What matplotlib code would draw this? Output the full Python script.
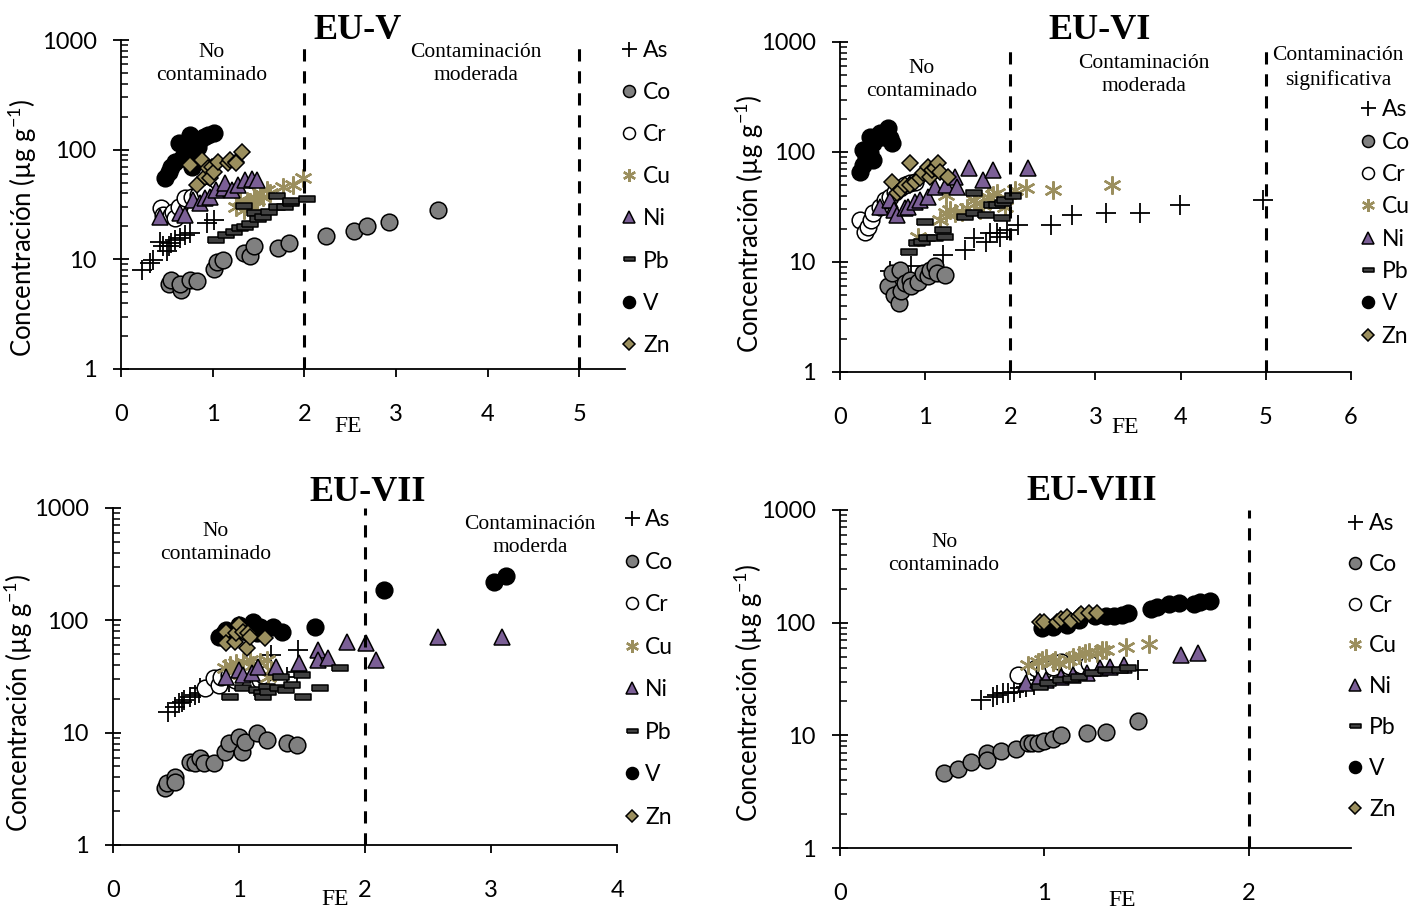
import matplotlib.pyplot as plt
from matplotlib.ticker import LogLocator, FixedLocator, NullFormatter, FixedFormatter

plt.rcParams['font.family'] = ['Lato', 'DejaVu Sans']
plt.rcParams['mathtext.fontset'] = 'custom'
plt.rcParams['mathtext.rm'] = 'Lato'

# ========== datos (FE, concentración en µg/g) ==========
elements = ["As", "Co", "Cr", "Cu", "Ni", "Pb", "V", "Zn"]

# --- EU-V ---
euv_as_fe = [0.23, 0.32, 0.35, 0.43, 0.46, 0.50, 0.52, 0.55, 0.59, 0.64, 0.70, 0.75, 0.94, 1.01]
euv_as_c = [8.0, 9.2, 9.9, 14.5, 13.1, 11.8, 13.1, 14.0, 15.0, 15.6, 16.7, 17.3, 21.3, 22.8]
euv_co_fe = [0.52, 0.54, 0.65, 0.64, 0.75, 0.83, 1.02, 1.05, 1.11, 1.34, 1.41, 1.45, 1.71, 1.83, 2.24, 2.54, 2.68, 2.92, 3.46]
euv_co_c = [6.0, 6.5, 5.2, 5.9, 6.5, 6.3, 8.1, 9.4, 9.9, 11.4, 10.8, 13.2, 12.6, 14.2, 16.3, 18.3, 20.1, 22.1, 28.2]
euv_cr_fe = [0.44, 0.46, 0.55, 0.57, 0.59, 0.63, 0.70, 0.77, 0.84, 0.92]
euv_cr_c = [29.2, 25.4, 25.4, 27.2, 23.7, 30.2, 36.1, 37.3, 38.7, 41.4]
euv_cu_fe = [1.25, 1.30, 1.34, 1.37, 1.41, 1.45, 1.45, 1.48, 1.52, 1.55, 1.59, 1.63, 1.77, 1.88, 1.99]
euv_cu_c = [29.9, 34.8, 28.2, 32.4, 33.6, 37.3, 30.3, 34.8, 40.0, 37.3, 43.0, 40.0, 46.1, 47.7, 54.8]
euv_ni_fe = [0.42, 0.64, 0.70, 0.79, 0.86, 0.92, 0.97, 1.04, 1.12, 1.14, 1.21, 1.28, 1.35, 1.43, 1.48]
euv_ni_c = [24.2, 26.3, 25.4, 34.8, 32.4, 36.1, 37.3, 43.0, 44.5, 50.0, 43.0, 47.7, 52.9, 53.7, 52.9]
euv_pb_fe = [1.04, 1.15, 1.23, 1.30, 1.34, 1.35, 1.41, 1.46, 1.50, 1.55, 1.61, 1.70, 1.70, 1.79, 1.85, 1.86, 2.03]
euv_pb_c = [15.0, 16.7, 17.9, 19.2, 30.7, 19.9, 21.0, 26.7, 23.2, 24.2, 27.2, 29.8, 37.8, 30.3, 32.4, 34.0, 35.3]
euv_v_fe = [0.48, 0.52, 0.55, 0.59, 0.63, 0.66, 0.72, 0.75, 0.77, 0.79, 0.81, 0.84, 0.86, 0.90, 0.95, 1.01]
euv_v_c = [54.8, 63, 70, 77.8, 114, 83.4, 89.5, 136, 70, 99.4, 83.4, 106, 122, 131, 136, 141]
euv_zn_fe = [0.75, 0.83, 0.88, 0.92, 0.95, 0.97, 0.99, 1.01, 1.06, 1.17, 1.19, 1.25, 1.26, 1.32]
euv_zn_c = [72.6, 47.7, 80.6, 56.8, 67.6, 54.8, 70, 63, 77.8, 75.1, 80.6, 77.8, 75.1, 96]

# --- EU-VI ---
euvi_as_fe = [0.59, 0.84, 1.21, 1.47, 1.57, 1.72, 1.76, 1.84, 1.88, 1.96, 2.09, 2.48, 2.72, 3.13, 3.52, 3.99, 4.97]
euvi_as_c = [8.2, 9.1, 11.6, 12.9, 16.4, 15.3, 18.3, 18.3, 17.0, 19.5, 21.7, 21.7, 26.7, 27.7, 27.7, 33.0, 36.6]
euvi_co_fe = [0.57, 0.61, 0.63, 0.69, 0.70, 0.72, 0.76, 0.82, 0.84, 0.92, 0.98, 1.04, 1.06, 1.12, 1.14, 1.23]
euvi_co_c = [6.0, 7.9, 5.0, 4.2, 8.5, 5.4, 6.4, 6.9, 6.0, 6.6, 7.9, 7.4, 8.5, 9.1, 7.9, 7.6]
euvi_cr_fe = [0.24, 0.29, 0.33, 0.37, 0.39, 0.47, 0.53, 0.59, 0.65, 0.70, 0.76, 0.82, 0.88]
euvi_cr_c = [24.1, 18.9, 20.9, 24.1, 27.7, 31.8, 36.6, 39.3, 43.6, 46.8, 50.2, 51.9, 53.7]
euvi_cu_fe = [0.92, 1.17, 1.25, 1.25, 1.29, 1.35, 1.43, 1.49, 1.57, 1.60, 1.64, 1.68, 1.74, 1.80, 1.84, 1.94, 2.05, 2.19, 2.50, 3.19]
euvi_cu_c = [17.0, 24.1, 27.7, 40.6, 29.7, 27.7, 28.6, 30.8, 36.6, 34.2, 29.7, 33.0, 39.3, 40.6, 42.1, 31.8, 45.2, 46.8, 45.2, 50.2]
euvi_ni_fe = [0.47, 0.59, 0.63, 0.67, 0.76, 0.80, 0.88, 0.94, 1.04, 1.12, 1.25, 1.35, 1.37, 1.51, 1.68, 1.80, 2.21]
euvi_ni_c = [31.8, 36.6, 29.7, 26.7, 30.8, 31.8, 35.3, 36.6, 39.3, 48.4, 50.2, 59.7, 48.4, 71.1, 55.6, 68.5, 71.1]
euvi_pb_fe = [0.81, 0.90, 0.96, 1.00, 1.02, 1.12, 1.21, 1.23, 1.47, 1.57, 1.57, 1.72, 1.78, 1.84, 1.90, 1.92, 1.94, 2.03]
euvi_pb_c = [12.4, 14.8, 15.3, 23.3, 16.4, 16.4, 19.5, 17.0, 25.8, 27.7, 42.1, 26.7, 33.0, 33.0, 24.9, 34.2, 36.6, 39.8]
euvi_v_fe = [0.24, 0.27, 0.27, 0.31, 0.35, 0.35, 0.39, 0.39, 0.43, 0.47, 0.51, 0.57, 0.59, 0.61]
euvi_v_c = [66.2, 76.2, 104, 90.7, 138, 97.3, 120, 84.6, 133, 148, 138, 164, 133, 120]
euvi_zn_fe = [0.61, 0.67, 0.72, 0.76, 0.82, 0.82, 0.88, 0.94, 0.98, 1.04, 1.06, 1.08, 1.12, 1.15, 1.17, 1.27]
euvi_zn_c = [53.7, 42.1, 45.2, 50.2, 50.2, 78.9, 53.7, 57.7, 64, 73.6, 59.7, 68.5, 71.1, 78.9, 66.2, 59.7]

# --- EU-VII ---
euvii_as_fe = [0.44, 0.49, 0.52, 0.55, 0.56, 0.61, 0.65, 0.68, 0.69, 0.90, 0.92, 1.25, 1.38, 1.46, 1.47]
euvii_as_c = [15.3, 17.0, 18.2, 18.9, 19.5, 20.9, 21.6, 22.4, 24.8, 31.5, 28.4, 49.1, 31.5, 34.8, 54.5]
euvii_co_fe = [0.41, 0.43, 0.49, 0.49, 0.61, 0.65, 0.69, 0.72, 0.80, 0.89, 0.92, 1.00, 1.02, 1.05, 1.14, 1.22, 1.38, 1.46]
euvii_co_c = [3.19, 3.53, 4.05, 3.65, 5.51, 5.33, 5.90, 5.33, 5.33, 6.77, 8.03, 9.21, 6.77, 8.30, 9.86, 8.59, 8.03, 7.76]
euvii_cr_fe = [0.73, 0.80, 0.84, 0.86, 0.92, 0.97, 1.17, 1.19]
euvii_cr_c = [24.8, 30.4, 26.5, 31.5, 32.6, 29.4, 29.4, 32.6]
euvii_cu_fe = [0.89, 0.93, 0.96, 0.98, 1.03, 1.09, 1.11, 1.17, 1.22, 1.23, 1.25]
euvii_cu_c = [37.3, 40.0, 36.1, 41.4, 42.8, 44.3, 40.0, 42.8, 44.3, 31.5, 36.1]
euvii_ni_fe = [0.90, 1.00, 1.03, 1.10, 1.15, 1.29, 1.48, 1.63, 1.63, 1.71, 1.86, 2.01, 2.09, 2.58, 3.09]
euvii_ni_c = [31.5, 36.1, 32.6, 33.7, 38.6, 38.6, 41.4, 54.5, 44.3, 45.9, 64.6, 62.4, 44.3, 71.4, 71.4]
euvii_pb_fe = [0.93, 1.03, 1.14, 1.18, 1.19, 1.22, 1.23, 1.31, 1.33, 1.37, 1.42, 1.50, 1.51, 1.64, 1.80]
euvii_pb_c = [20.9, 24.8, 23.9, 22.4, 20.9, 25.6, 23.1, 24.8, 31.5, 23.9, 26.5, 32.6, 20.9, 24.8, 37.3]
euvii_v_fe = [0.84, 0.88, 0.90, 0.96, 1.00, 1.06, 1.09, 1.11, 1.14, 1.17, 1.19, 1.27, 1.34, 1.60, 2.15, 3.02, 3.12]
euvii_v_c = [71.4, 76.6, 82, 76.6, 90.8, 79.3, 84.9, 97.3, 76.6, 87.7, 82, 87.7, 79.3, 87.7, 186, 221, 248]
euvii_zn_fe = [0.90, 0.90, 0.97, 0.98, 1.00, 1.03, 1.06, 1.07, 1.09, 1.21]
euvii_zn_c = [79.3, 62.4, 64.6, 76.6, 90.8, 79.3, 56.3, 76.6, 71.4, 69.2]

# --- EU-VIII ---
euviii_as_fe = [0.69, 0.75, 0.77, 0.80, 0.82, 0.85, 0.88, 0.91, 0.95, 0.98, 1.01, 1.46]
euviii_as_c = [20.6, 22.0, 22.8, 23.6, 23.6, 24.4, 26.2, 27.0, 28.0, 31.0, 31.0, 38.0]
euviii_co_fe = [0.51, 0.58, 0.64, 0.72, 0.72, 0.79, 0.86, 0.92, 0.94, 0.97, 1.00, 1.04, 1.08, 1.21, 1.30, 1.46]
euviii_co_c = [4.6, 5.0, 5.85, 6.93, 6.05, 7.3, 7.5, 8.5, 8.6, 8.5, 8.9, 9.2, 10.1, 10.4, 10.7, 13.4]
euviii_cr_fe = [0.87, 0.96, 1.00, 1.04, 1.08, 1.12, 1.18, 1.22]
euviii_cr_c = [34.4, 39.4, 38.0, 40.7, 45.1, 41.3, 42.2, 43.6]
euviii_cu_fe = [0.92, 0.97, 0.99, 1.01, 1.04, 1.05, 1.07, 1.12, 1.14, 1.17, 1.20, 1.22, 1.26, 1.28, 1.30, 1.40, 1.51]
euviii_cu_c = [42.2, 45.1, 46.7, 48.3, 45.1, 46.7, 43.6, 46.7, 49.9, 51.7, 53.5, 55.4, 53.5, 57.3, 57.0, 61.3, 64.7]
euviii_ni_fe = [0.91, 0.97, 1.01, 1.08, 1.14, 1.21, 1.27, 1.32, 1.39, 1.67, 1.75]
euviii_ni_c = [29.0, 31.0, 31.0, 33.2, 34.4, 35.6, 39.4, 40.2, 42.2, 51.6, 54.2]
euviii_pb_fe = [0.98, 1.02, 1.08, 1.13, 1.17, 1.24, 1.30, 1.37, 1.41]
euviii_pb_c = [27.0, 29.0, 31.0, 31.5, 33.2, 35.6, 38.0, 38.0, 39.4]
euviii_v_fe = [0.99, 1.04, 1.11, 1.17, 1.25, 1.30, 1.34, 1.38, 1.41, 1.52, 1.55, 1.61, 1.66, 1.73, 1.76, 1.81]
euviii_v_c = [89, 92.2, 95.5, 106, 115, 115, 115, 117, 121, 131, 137, 147, 149, 147, 153, 157]
euviii_zn_fe = [0.98, 1.00, 1.06, 1.08, 1.11, 1.13, 1.17, 1.18, 1.22, 1.26]
euviii_zn_c = [101, 102, 102, 107, 113, 104, 115, 119, 121, 121]

# ========== estilos de marcadores ==========
pb_mark = [(-1, -0.4), (1, -0.4), (1, 0.4), (-1, 0.4), (-1, -0.4)]
tan = "#9b8f5e"
styles = {
    "As": dict(marker="+", ms=15, mfc="black", mec="black", mew=1.3),
    "Co": dict(marker="o", ms=12, mfc="#808080", mec="black", mew=1.1),
    "Cr": dict(marker="o", ms=12, mfc="white", mec="black", mew=1.1),
    "Cu": dict(marker=(6, 2, 0), ms=13, mfc=tan, mec=tan, mew=1.7),
    "Ni": dict(marker="^", ms=12, mfc="#7b5f96", mec="black", mew=1.1),
    "Pb": dict(marker=pb_mark, ms=11, mfc="#404040", mec="black", mew=1.1),
    "V": dict(marker="o", ms=12, mfc="black", mec="black", mew=1.1),
    "Zn": dict(marker="D", ms=8, mfc=tan, mec="black", mew=1.1),
}

panels = [
    dict(title="EU-V", pos=[0.0856, 0.595, 0.3564, 0.361], xmax=5.5, xticks=[0, 1, 2, 3, 4, 5],
         lines=[2, 5], title_xy=(0.47, 1.03), fe_xy=(0.45, -0.176), ylab_xy=(-0.163, 0.43),
         leg_xy=(0.995, 1.0), leg_sp=0.92,
         notes=[("No\ncontaminado", 0.18, 0.927), ("Contaminación\nmoderada", 0.704, 0.927)],
         data=[(euv_as_fe, euv_as_c), (euv_co_fe, euv_co_c), (euv_cr_fe, euv_cr_c), (euv_cu_fe, euv_cu_c),
               (euv_ni_fe, euv_ni_c), (euv_pb_fe, euv_pb_c), (euv_v_fe, euv_v_c), (euv_zn_fe, euv_zn_c)]),
    dict(title="EU-VI", pos=[0.594, 0.5917, 0.3614, 0.3622], xmax=6, xticks=[0, 1, 2, 3, 4, 5, 6],
         lines=[2, 5], title_xy=(0.509, 1.036), fe_xy=(0.558, -0.167), ylab_xy=(-0.145, 0.448),
         leg_xy=(1.02, 0.826), leg_sp=0.495,
         notes=[("No\ncontaminado", 0.16, 0.885), ("Contaminación\nmoderada", 0.595, 0.9),
                ("Contaminación\nsignificativa", 0.975, 0.921)],
         data=[(euvi_as_fe, euvi_as_c), (euvi_co_fe, euvi_co_c), (euvi_cr_fe, euvi_cr_c), (euvi_cu_fe, euvi_cu_c),
               (euvi_ni_fe, euvi_ni_c), (euvi_pb_fe, euvi_pb_c), (euvi_v_fe, euvi_v_c), (euvi_zn_fe, euvi_zn_c)]),
    dict(title="EU-VII", pos=[0.0799, 0.0725, 0.3565, 0.3699], xmax=4, xticks=[0, 1, 2, 3, 4],
         lines=[2], title_xy=(0.506, 1.045), fe_xy=(0.44, -0.163), ylab_xy=(-0.155, 0.421),
         leg_xy=(1.015, 0.997), leg_sp=0.94,
         notes=[("No\ncontaminado", 0.204, 0.896), ("Contaminación\nmoderda", 0.827, 0.917)],
         data=[(euvii_as_fe, euvii_as_c), (euvii_co_fe, euvii_co_c), (euvii_cr_fe, euvii_cr_c), (euvii_cu_fe, euvii_cu_c),
               (euvii_ni_fe, euvii_ni_c), (euvii_pb_fe, euvii_pb_c), (euvii_v_fe, euvii_v_c), (euvii_zn_fe, euvii_zn_c)]),
    dict(title="EU-VIII", pos=[0.594, 0.0691, 0.3614, 0.3711], xmax=2.5, xticks=[0, 1, 2],
         lines=[2], title_xy=(0.493, 1.056), fe_xy=(0.552, -0.154), ylab_xy=(-0.147, 0.459),
         leg_xy=(0.995, 0.992), leg_sp=0.87,
         notes=[("No\ncontaminado", 0.204, 0.87)],
         data=[(euviii_as_fe, euviii_as_c), (euviii_co_fe, euviii_co_c), (euviii_cr_fe, euviii_cr_c), (euviii_cu_fe, euviii_cu_c),
               (euviii_ni_fe, euviii_ni_c), (euviii_pb_fe, euviii_pb_c), (euviii_v_fe, euviii_v_c), (euviii_zn_fe, euviii_zn_c)]),
]

serif = "Liberation Serif"
fig = plt.figure(figsize=(14.14, 9.11), dpi=100)

for p in panels:
    ax = fig.add_axes(p["pos"])
    for el, (fe, c) in zip(elements, p["data"]):
        ax.plot(fe, c, ls="none", label=el, **styles[el])

    for xv in p["lines"]:
        ax.axvline(xv, color="black", lw=2.2, ls=(0, (4, 3.2)))

    ax.set_yscale("log")
    ax.set_ylim(1, 1000)
    ax.set_xlim(0, p["xmax"])
    ax.xaxis.set_major_locator(FixedLocator(p["xticks"]))
    ax.yaxis.set_major_locator(FixedLocator([1, 10, 100, 1000]))
    ax.yaxis.set_major_formatter(FixedFormatter(["1", "10", "100", "1000"]))
    ax.yaxis.set_minor_locator(LogLocator(base=10, subs=range(2, 10)))
    ax.yaxis.set_minor_formatter(NullFormatter())

    for s in ["top", "right"]:
        ax.spines[s].set_visible(False)
    for s in ["left", "bottom"]:
        ax.spines[s].set_linewidth(1.3)
    ax.tick_params(axis="y", which="major", direction="inout", length=11, width=1.3,
                   labelsize=17, pad=12)
    ax.tick_params(axis="y", which="minor", direction="in", length=5, width=1.1)
    ax.tick_params(axis="x", which="major", direction="out", length=6, width=1.3,
                   labelsize=17, pad=19)

    ax.set_ylabel(r"Concentración (µg g$^{\mathregular{-1}}$)", fontsize=18.5)
    ax.yaxis.set_label_coords(*p["ylab_xy"])

    ax.text(*p["fe_xy"], "FE", transform=ax.transAxes, ha="center", va="center",
            family=serif, fontsize=17)
    ax.text(*p["title_xy"], p["title"], transform=ax.transAxes, ha="center", va="center",
            family=serif, fontsize=26, fontweight="bold")
    for txt, tx, ty in p["notes"]:
        ax.text(tx, ty, txt, transform=ax.transAxes, ha="center", va="center",
                family=serif, fontsize=15.5, linespacing=1.3)

    ax.legend(loc="upper left", bbox_to_anchor=p["leg_xy"], frameon=False, fontsize=16.5,
              markerscale=0.72, handlelength=0.6, handletextpad=0.3, borderpad=0,
              borderaxespad=0, labelspacing=p["leg_sp"], numpoints=1)

fig.savefig("out.png", dpi=100)
